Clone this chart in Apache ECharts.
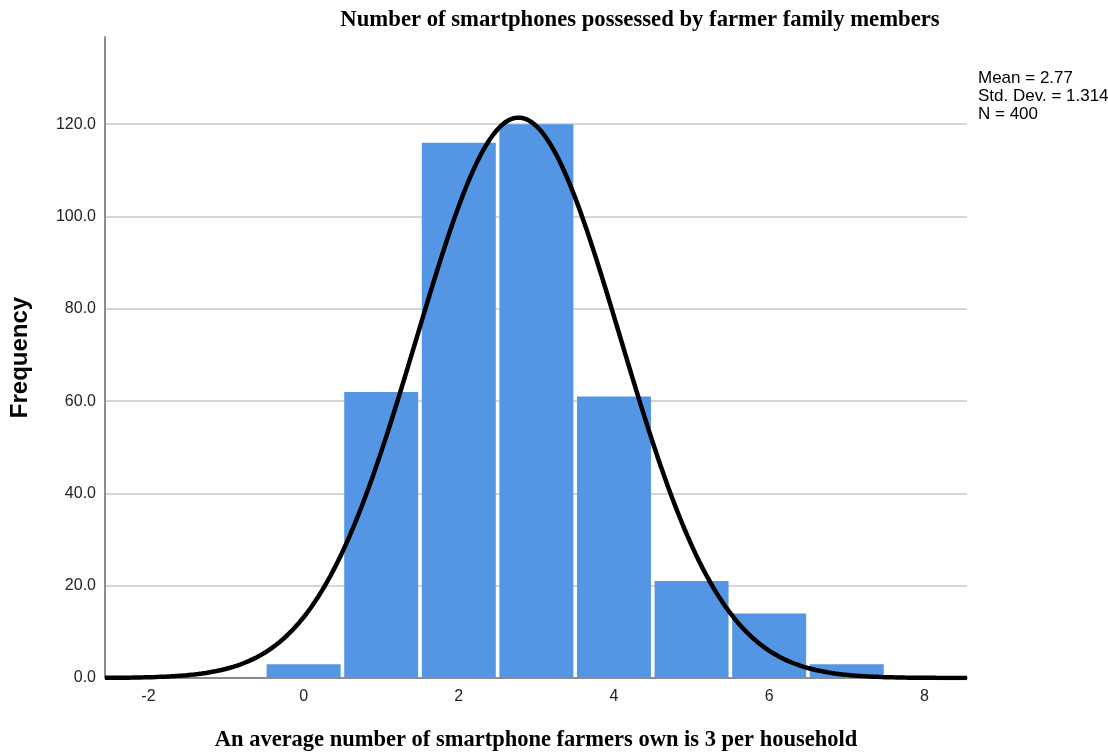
<!DOCTYPE html>
<html>
<head>
<meta charset="utf-8">
<script src="https://cdn.jsdelivr.net/npm/echarts@6/dist/echarts.min.js"></script>
<style>
html,body{margin:0;padding:0;background:#fff;}
#chart{width:1108px;height:753px;}
</style>
</head>
<body>
<div id="chart"></div>
<script>
// Histogram categories (number of smartphones) and frequencies
const binCenters = [0, 1, 2, 3, 4, 5, 6, 7];
const frequencies = [3, 62, 116, 120, 61, 21, 14, 3];
// Summary statistics shown in the legend (used for fitted normal curve)
const statMean = 2.77;
const statSD = 1.314;
const statN = 400;
// Tick labels
const xTickValues = [-2, 0, 2, 4, 6, 8];
const legendLines = ['Mean = 2.77', 'Std. Dev. = 1.314', 'N = 400'];

const xMin = -2.56, xMax = 8.55;

// fitted normal curve (bin width 1) from mean, sd and N
const curve = [];
for (let i = 0; i <= 222; i++) {
  const x = xMin + (xMax - xMin) * i / 222;
  const z = (x - statMean) / statSD;
  curve.push([x, statN / (statSD * Math.sqrt(2 * Math.PI)) * Math.exp(-0.5 * z * z)]);
}

const chart = echarts.init(document.getElementById('chart'));
chart.setOption({
  animation: false,
  title: {
    text: 'Number of smartphones possessed by farmer family members',
    left: 635, top: 4, textAlign: 'center',
    textStyle: {fontFamily: 'Liberation Serif', fontWeight: 'bold', fontSize: 22.7, color: '#000'}
  },
  graphic: [{
    type: 'text', left: 978, top: 69,
    style: {text: legendLines.join('\n'), fontFamily: 'Liberation Sans', fontSize: 17, lineHeight: 18, fill: '#000'}
  }],
  grid: {left: 105, right: 141, top: 37, bottom: 75, containLabel: false, outerBoundsMode: 'none'},
  xAxis: {
    type: 'value', min: xMin, max: xMax,
    name: 'An average number of smartphone farmers own is 3 per household',
    nameLocation: 'middle', nameGap: 51,
    nameTextStyle: {fontFamily: 'Liberation Serif', fontWeight: 'bold', fontSize: 22.5, color: '#000'},
    axisLine: {show: true, lineStyle: {color: '#8c8c8c', width: 2}},
    axisTick: {show: false},
    splitLine: {show: false},
    axisLabel: {customValues: xTickValues, margin: 11, fontFamily: 'Liberation Sans', fontSize: 16, color: '#222'}
  },
  yAxis: {
    type: 'value', min: 0, max: 138.9, interval: 20,
    name: 'Frequency', nameLocation: 'middle', nameGap: 73, nameRotate: 90,
    nameTextStyle: {fontFamily: 'Liberation Sans', fontWeight: 'bold', fontSize: 24, color: '#000'},
    axisLine: {show: true, onZero: false, lineStyle: {color: '#8c8c8c', width: 2}},
    axisTick: {show: false},
    axisLabel: {showMaxLabel: false, margin: 9, fontFamily: 'Liberation Sans', fontSize: 16, color: '#222',
      padding: [8, 0, 0, 0], formatter: v => v.toFixed(1)},
    splitLine: {show: true, showMaxLine: false, showMinLine: false, lineStyle: {color: '#c8c8c8', width: 1.5}}
  },
  series: [{
    type: 'custom',
    data: binCenters.map((c, i) => [c, frequencies[i]]),
    renderItem: function (params, api) {
      const c = api.value(0), v = api.value(1);
      const p0 = api.coord([c - 0.5, v]);
      const p1 = api.coord([c + 0.5, 0]);
      const g = 1.8;
      return {
        type: 'rect',
        shape: {x: p0[0] + g, y: p0[1], width: p1[0] - p0[0] - 2 * g, height: p1[1] - p0[1]},
        style: {fill: '#5596e4'}
      };
    },
    z: 2
  }, {
    type: 'line', data: curve, showSymbol: false, smooth: false,
    lineStyle: {color: '#000', width: 4.5}, z: 3
  }]
});
</script>
</body>
</html>
